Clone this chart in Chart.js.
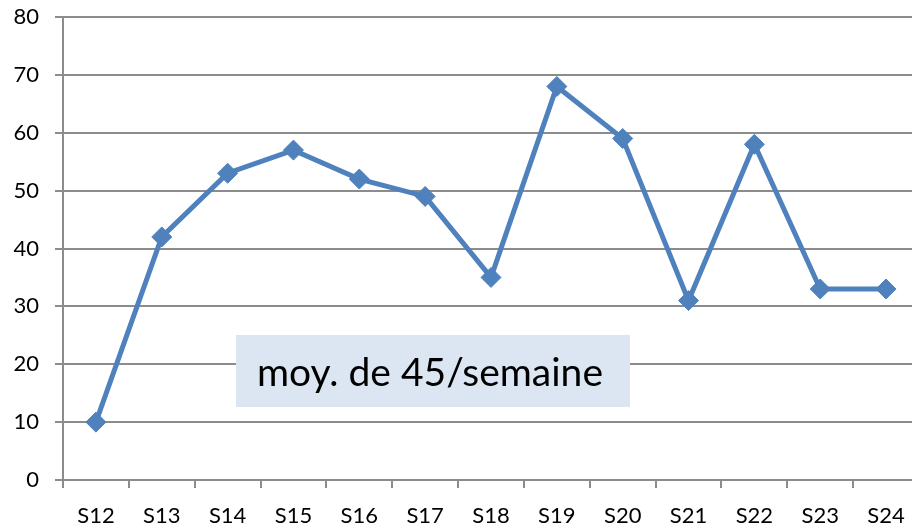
<html>
<head>
    <title>moyenne par semaine</title>
    <style>
        body {
            margin: 0;
            overflow: hidden;
            background: #fff;
        }
    </style>
</head>
<body>

<script src="https://cdn.jsdelivr.net/npm/chart.js@4.4.1/dist/chart.umd.min.js"></script>

<canvas id="weekly" width="930" height="526"></canvas>

<script>

    // data
    const weeks = ['S12', 'S13', 'S14', 'S15', 'S16', 'S17', 'S18', 'S19', 'S20', 'S21', 'S22', 'S23', 'S24'];
    const counts = [10, 42, 53, 57, 52, 49, 35, 68, 59, 31, 58, 33, 33];
    const y_min = 0;
    const y_max = 80;
    const y_step = 10;
    const note_text = 'moy. de 45/semaine';

    const font_family = 'Lato, "Open Sans", sans-serif';
    const grid_grey = '#8c8c8c';

    // light blue box with the average, drawn over the chart
    const note_box = {
        id: 'note_box',
        afterDatasetsDraw(chart) {
            const ctx = chart.ctx;
            ctx.save();
            ctx.fillStyle = '#dce6f2';
            ctx.fillRect(236, 335, 394, 72);
            ctx.fillStyle = '#000';
            ctx.font = '39px ' + font_family;
            ctx.textBaseline = 'alphabetic';
            ctx.textAlign = 'left';
            ctx.fillText(note_text, 257, 386);
            ctx.restore();
        }
    };

    const canvas_weekly = document.getElementById('weekly');
    const weekly = new Chart(canvas_weekly, {
        type: 'line',
        data: {
            labels: weeks,
            datasets: [
                {
                    label: 'semaine',
                    data: counts,
                    borderColor: '#4f81bd',
                    backgroundColor: '#4f81bd',
                    borderWidth: 5,
                    tension: 0,
                    pointStyle: 'rectRot',
                    pointRadius: 10,
                    pointBorderWidth: 1,
                    pointBackgroundColor: '#4f81bd',
                    pointBorderColor: '#4f81bd'
                }
            ]
        },
        options: {
            responsive: false,
            animation: false,
            layout: {
                padding: {top: 17, right: 0, left: 0, bottom: 0}
            },
            plugins: {
                legend: {display: false},
                tooltip: {enabled: false}
            },
            scales: {
                x: {
                    offset: true,
                    grid: {
                        offset: true,
                        drawOnChartArea: false,
                        drawTicks: true,
                        tickLength: 8,
                        color: grid_grey,
                        lineWidth: 2
                    },
                    border: {color: grid_grey, width: 2},
                    ticks: {
                        color: '#000',
                        font: {family: font_family, size: 22},
                        padding: 15,
                        maxRotation: 0,
                        autoSkip: false
                    },
                    afterFit(scale) {
                        scale.height = 46;
                        scale.paddingLeft = 0;
                        scale.paddingRight = 0;
                    }
                },
                y: {
                    min: y_min,
                    max: y_max,
                    grid: {
                        color: grid_grey,
                        lineWidth: 2,
                        tickLength: 8
                    },
                    border: {color: grid_grey, width: 2},
                    ticks: {
                        stepSize: y_step,
                        color: '#000',
                        font: {family: font_family, size: 22},
                        padding: 16
                    },
                    afterFit(scale) {
                        scale.width = 63;
                        scale.paddingTop = 0;
                        scale.paddingBottom = 0;
                    }
                }
            }
        },
        plugins: [note_box]
    });

</script>

</body>
</html>
